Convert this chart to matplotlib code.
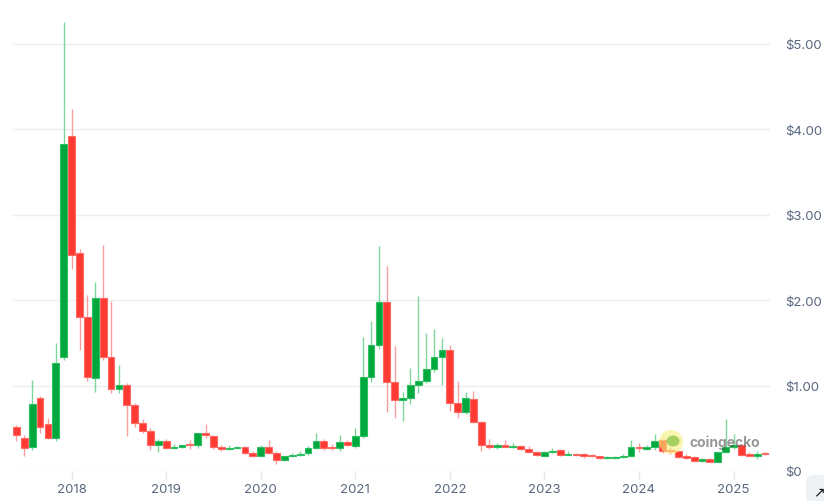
import numpy as np
import matplotlib.pyplot as plt
from matplotlib.patches import FancyBboxPatch, Ellipse

# monthly candles, Jun 2017 .. May 2025
start_year, start_month = 2017, 6
opens = [0.52, 0.39, 0.28, 0.86, 0.55, 0.39, 1.33,
         3.92, 2.55, 1.80, 1.09, 2.03, 1.34, 0.96, 1.01, 0.77, 0.56, 0.47, 0.30,
         0.35, 0.27, 0.28, 0.305, 0.30, 0.44, 0.41, 0.28, 0.26, 0.27, 0.28, 0.21,
         0.17, 0.28, 0.21, 0.13, 0.17, 0.19, 0.21, 0.27, 0.35, 0.27, 0.27, 0.34,
         0.29, 0.41, 1.10, 1.48, 1.98, 1.04, 0.83, 0.86, 1.01, 1.05, 1.20, 1.34,
         1.42, 0.80, 0.69, 0.84, 0.57, 0.30, 0.28, 0.31, 0.28, 0.29, 0.26, 0.22,
         0.17, 0.22, 0.25, 0.19, 0.20, 0.19, 0.19, 0.17, 0.15, 0.15, 0.16, 0.17,
         0.28, 0.26, 0.28, 0.36, 0.25, 0.23, 0.17, 0.16, 0.12, 0.14, 0.11, 0.22,
         0.28, 0.30, 0.19, 0.18, 0.21]
highs = [0.54, 0.42, 1.06, 0.88, 0.62, 1.50, 5.26,
         4.24, 2.60, 2.06, 2.21, 2.65, 1.99, 1.24, 1.03, 0.80, 0.61, 0.50, 0.38,
         0.38, 0.32, 0.31, 0.36, 0.45, 0.55, 0.42, 0.30, 0.31, 0.29, 0.29, 0.23,
         0.30, 0.36, 0.24, 0.17, 0.21, 0.24, 0.29, 0.45, 0.37, 0.32, 0.42, 0.36,
         0.50, 1.57, 1.76, 2.64, 2.40, 1.46, 0.93, 1.21, 2.05, 1.62, 1.66, 1.56,
         1.47, 1.05, 0.93, 0.94, 0.58, 0.38, 0.33, 0.36, 0.33, 0.30, 0.29, 0.23,
         0.23, 0.27, 0.26, 0.23, 0.21, 0.21, 0.20, 0.18, 0.18, 0.17, 0.20, 0.36,
         0.33, 0.31, 0.43, 0.37, 0.28, 0.24, 0.20, 0.17, 0.15, 0.15, 0.22, 0.61,
         0.43, 0.31, 0.22, 0.23, 0.22]
lows = [0.35, 0.17, 0.25, 0.45, 0.38, 0.35, 1.30,
        2.37, 1.42, 1.05, 0.93, 1.30, 0.91, 0.91, 0.41, 0.51, 0.45, 0.25, 0.22,
        0.26, 0.26, 0.27, 0.26, 0.27, 0.39, 0.26, 0.24, 0.25, 0.26, 0.20, 0.16,
        0.17, 0.21, 0.08, 0.12, 0.16, 0.18, 0.19, 0.26, 0.25, 0.25, 0.23, 0.29,
        0.27, 0.39, 1.04, 1.43, 0.69, 0.62, 0.58, 0.79, 0.91, 1.03, 1.16, 1.01,
        0.70, 0.62, 0.67, 0.56, 0.24, 0.26, 0.26, 0.28, 0.27, 0.25, 0.21, 0.18,
        0.17, 0.21, 0.17, 0.19, 0.18, 0.15, 0.16, 0.14, 0.14, 0.14, 0.15, 0.16,
        0.22, 0.25, 0.25, 0.21, 0.20, 0.15, 0.14, 0.11, 0.11, 0.10, 0.10, 0.21,
        0.26, 0.18, 0.17, 0.14, 0.19]
closes = [0.42, 0.27, 0.79, 0.51, 0.39, 1.27, 3.83,
          2.53, 1.80, 1.10, 2.03, 1.34, 0.96, 1.01, 0.77, 0.56, 0.47, 0.30, 0.35,
          0.27, 0.28, 0.30, 0.30, 0.44, 0.42, 0.28, 0.26, 0.27, 0.28, 0.21, 0.17,
          0.28, 0.21, 0.13, 0.17, 0.19, 0.20, 0.27, 0.35, 0.27, 0.265, 0.34, 0.30,
          0.41, 1.10, 1.48, 1.98, 1.04, 0.83, 0.86, 1.01, 1.05, 1.20, 1.34, 1.42,
          0.80, 0.69, 0.85, 0.57, 0.30, 0.28, 0.31, 0.28, 0.29, 0.26, 0.22, 0.19,
          0.22, 0.24, 0.19, 0.20, 0.19, 0.18, 0.17, 0.15, 0.15, 0.16, 0.18, 0.28,
          0.27, 0.28, 0.35, 0.23, 0.23, 0.16, 0.15, 0.12, 0.14, 0.11, 0.22, 0.28,
          0.30, 0.19, 0.18, 0.20, 0.20]

year_labels = ['2018', '2019', '2020', '2021', '2022', '2023', '2024', '2025']
price_ticks = [0, 1, 2, 3, 4, 5]
price_labels = ['$0', '$1.00', '$2.00', '$3.00', '$4.00', '$5.00']

GREEN, GREEN_EDGE, GREEN_WICK = '#00a83e', '#2fbf63', '#7fd69c'
RED, RED_EDGE, RED_WICK = '#ff3a33', '#ff6964', '#f7a09d'
TXT = '#58667e'
plt.rcParams['font.family'] = ['Inter', 'DejaVu Sans']

o = np.array(opens)
h = np.array(highs)
l = np.array(lows)
c = np.array(closes)
x = np.arange(len(o))
up = c >= o

fig = plt.figure(figsize=(8.24, 5.02), dpi=100)
ax = fig.add_axes([13 / 824, 30 / 502, 757 / 824, 469.7 / 502])

ax.vlines(x[up], l[up], h[up], color=GREEN_WICK, lw=1, zorder=2)
ax.vlines(x[~up], l[~up], h[~up], color=RED_WICK, lw=1, zorder=2)

bottom = np.minimum(o, c)
height = np.maximum(np.abs(c - o), 0.014)
ax.bar(x[up], height[up], bottom=bottom[up], width=0.86, color=GREEN,
       edgecolor=GREEN_EDGE, linewidth=0.8, zorder=3)
ax.bar(x[~up], height[~up], bottom=bottom[~up], width=0.86, color=RED,
       edgecolor=RED_EDGE, linewidth=0.8, zorder=3)

ax.set_xlim(-0.44, 95.63)
ax.set_ylim(0, 5.5)

# Jan of each year
year_pos = [12 * (int(y) - start_year) + 1 - start_month for y in year_labels]
ax.set_xticks(year_pos)
ax.set_xticklabels(year_labels, color=TXT, fontsize=9.5)
ax.tick_params(axis='x', length=6, width=1, color='#e3e6ea', pad=3)

ax.yaxis.tick_right()
ax.set_yticks(price_ticks)
ax.set_yticklabels(price_labels, color=TXT, fontsize=9.5)
ax.tick_params(axis='y', length=0, pad=11)
ax.grid(axis='y', color='#eceef1', lw=1)
ax.set_axisbelow(True)
for s in ax.spines.values():
    s.set_visible(False)

# coingecko watermark
fig.patches.append(Ellipse((671 / 824, 1 - 443 / 502), 24 / 824, 24 / 502,
                           transform=fig.transFigure, facecolor='#f6ef7a',
                           alpha=0.6, edgecolor='none', zorder=5))
fig.patches.append(Ellipse((673 / 824, 1 - 442 / 502), 13 / 824, 11 / 502,
                           transform=fig.transFigure, facecolor='#8bc34a',
                           alpha=0.75, edgecolor='none', zorder=6))
fig.text(689 / 824, 1 - 443 / 502, 'coingecko', fontsize=10, fontweight='bold',
         color='#555555', alpha=0.6, va='center', ha='left')

# corner button
fig.patches.append(FancyBboxPatch((806 / 824, -0.02), 0.06, 0.072,
                                  boxstyle='round,pad=0,rounding_size=0.012',
                                  transform=fig.transFigure, facecolor='#eff2f5',
                                  edgecolor='none'))
fig.text(813 / 824, 1 - 492 / 502, '\u2197', fontsize=10, color='#111111',
         va='center', ha='left', family='DejaVu Sans')

fig.savefig('out.png', dpi=100)
